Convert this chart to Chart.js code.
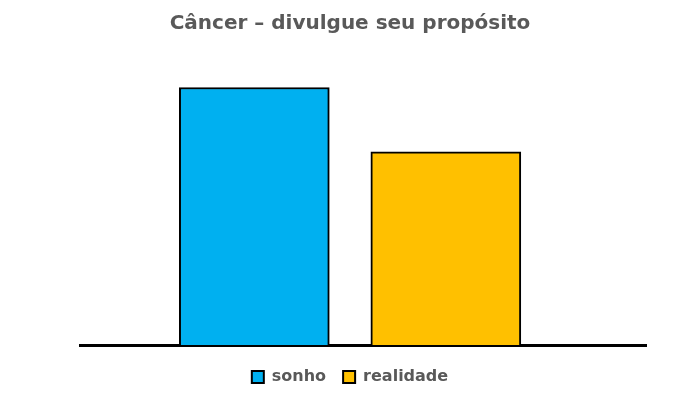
<!DOCTYPE html>
<html>
<head>
<meta charset="utf-8">
<script src="https://cdn.jsdelivr.net/npm/chart.js@4"></script>
<style>
  html, body { margin: 0; padding: 0; background: #fff; }
  #wrap { width: 700px; height: 400px; }
</style>
</head>
<body>
<div id="wrap"><canvas id="c"></canvas></div>
<script>
const titleText = 'Câncer – divulgue seu propósito';
const categories = ['sonho', 'realidade'];
const values = [100, 75];
const positions = [1, 2];
const colors = ['#00B0F0', '#FFC000'];

const datasets = categories.map((name, i) => ({
  label: name,
  data: [{ x: positions[i], y: values[i] }],
  backgroundColor: colors[i],
  borderColor: '#000000',
  borderWidth: 2,
  grouped: false,
  barThickness: 150
}));

new Chart(document.getElementById('c'), {
  type: 'bar',
  data: { datasets },
  options: {
    responsive: true,
    maintainAspectRatio: false,
    animation: false,
    layout: { padding: { left: 54, right: 54, top: 0, bottom: 5 } },
    plugins: {
      title: {
        display: true,
        text: titleText,
        color: '#595959',
        font: { family: 'DejaVu Sans', size: 20, weight: 'bold' },
        padding: { top: 12, bottom: 0 }
      },
      legend: {
        position: 'bottom',
        labels: {
          color: '#595959',
          font: { family: 'DejaVu Sans', size: 16, weight: 'bold' },
          boxWidth: 12,
          boxHeight: 12,
          padding: 17
        }
      },
      tooltip: { enabled: false }
    },
    scales: {
      x: {
        type: 'linear',
        min: 0.09,
        max: 3.045,
        offset: false,
        ticks: { display: false },
        grid: { display: false, drawTicks: false },
        border: { display: true, color: '#000000', width: 3 },
        afterFit: (s) => { s.height += 7; }
      },
      y: {
        display: true,
        min: 0,
        max: 120,
        ticks: { display: false },
        grid: { display: false, drawTicks: false },
        border: { display: false },
        afterFit: (s) => { s.width = 26; }
      }
    }
  }
});
</script>
</body>
</html>
